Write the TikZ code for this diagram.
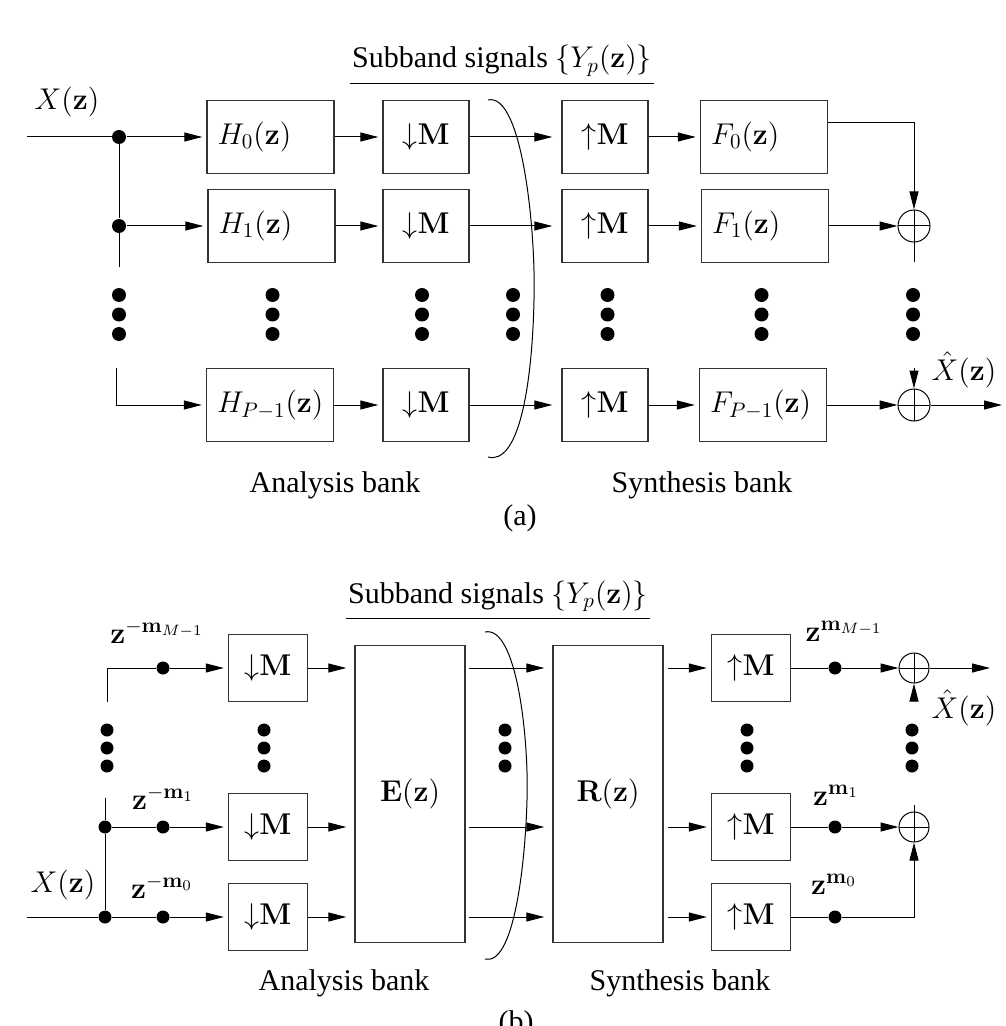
\RequirePackage{fix-cm}
\documentclass[tikz,border=0pt]{standalone}
\usepackage[no-math]{fontspec}
\setmainfont{Liberation Serif}
\usetikzlibrary{arrows.meta}
\tikzset{
  every picture/.style={font=\fontsize{15}{18}\selectfont, line width=0.5pt},
  blk/.style={draw=black!80, line width=0.7pt, minimum height=36.5pt, inner sep=0pt},
  filt/.style={blk, text width=53pt, inner xsep=5.25pt, align=left},
  rate/.style={blk, minimum width=43pt},
  rateb/.style={blk, minimum width=39.5pt, minimum height=33.5pt},
  poly/.style={blk, minimum width=55pt, minimum height=148.5pt},
  sum/.style={circle, draw, minimum size=16pt, inner sep=0pt,
    path picture={\draw (path picture bounding box.north) -- (path picture bounding box.south)
                        (path picture bounding box.west) -- (path picture bounding box.east);}},
  dot/.style={circle, fill, inner sep=0pt, minimum size=#1},
  dot/.default=7pt,
  arr/.style={-{Triangle[length=9pt, width=4.5pt]}},
  feed/.style={arr, shorten >=2pt},
  head/.style={anchor=base, inner xsep=1pt, inner ysep=3pt},
  lbl/.style={anchor=base, inner sep=0pt},
}
\newcommand{\dn}{$\mathord{\downarrow}\mathbf{M}$}
\newcommand{\up}{$\mathord{\uparrow}\mathbf{M}$}

\begin{document}
\begin{tikzpicture}[x=0.5pt, y=-0.5pt]
  \useasboundingbox (0,0) rectangle (1005,1026);

  % ---- (a): filter bank
  \node[head] (suba) at (502,68) {Subband signals $\{Y_p(\mathbf{z})\}$};
  \draw (suba.south west) -- (suba.south east);
  \node[lbl] (xa)  at (67,110)  {$X(\mathbf{z})$};
  \node[lbl] (xha) at (964,380) {$\hat{X}(\mathbf{z})$};

  \node[filt] (h0) at (270.5,137) {$H_0(\mathbf{z})$};
  \node[filt] (h1) at (271.5,226) {$H_1(\mathbf{z})$};
  \node[filt] (h2) at (270,405)   {$H_{P-1}(\mathbf{z})$};
  \foreach \i/\y in {0/137, 1/226, 2/405} {
    \node[rate] (d\i) at (426,\y) {\dn};
    \node[rate] (u\i) at (605,\y) {\up};
  }
  \node[filt] (f0) at (764,137) {$F_0(\mathbf{z})$};
  \node[filt] (f1) at (765,226) {$F_1(\mathbf{z})$};
  \node[filt] (f2) at (763,405) {$F_{P-1}(\mathbf{z})$};
  \node[sum] (s0) at (914,226) {};
  \node[sum] (s1) at (914,405) {};

  \node[dot] (j0) at (119,137) {};
  \node[dot] (j1) at (119,226) {};
  \coordinate (xin)  at (27,137);
  \coordinate (ja)   at (119,267);
  \coordinate (jb)   at (116,368);
  \coordinate (sb0)  at (914,262);
  \coordinate (st1)  at (914,368);
  \coordinate (xout) at (1002,405);

  \draw (xin) -- (j0) -- (j1) -- (ja);
  \draw[feed] (j0) -- (h0);
  \draw[feed] (j1) -- (h1);
  \draw[feed] (jb) |- (h2);
  \foreach \i in {0,1,2} \draw[feed] (h\i) -- (d\i);
  \foreach \i in {0,1,2} \draw[arr, shorten >=4.5pt] (d\i) -- (u\i);
  \foreach \i in {0,1,2} \draw[feed] (u\i) -- (f\i);
  \draw[arr] ([yshift=7pt]f0.east) -| (s0);
  \draw[arr] (f1) -- (s0);
  \draw (s0) -- (sb0);
  \draw[arr] (st1) -- (s1);
  \draw[arr] (f2) -- (s1);
  \draw[arr] (s1) -- (xout);

  % ellipses
  \foreach \x [count=\c] in {119,272.5,422,513,607.5,761.5,913}
    \foreach \k in {0,1,2} \node[dot] (va\c\k) at (\x,295+19.5*\k) {};

  \draw (488,100) .. controls (522,92) and (536,230) .. (534,300)
                  .. controls (532,390) and (518,465) .. (488,457);

  \node[lbl] (ana)  at (335,492) {Analysis bank};
  \node[lbl] (syna) at (702,492) {Synthesis bank};
  \node[lbl] (capa) at (520,525) {(a)};

  % ---- (b): polyphase form
  \node[head] (subb) at (498,603) {Subband signals $\{Y_p(\mathbf{z})\}$};
  \draw (subb.south west) -- (subb.south east);
  \node[lbl] (xb)  at (63,892)  {$X(\mathbf{z})$};
  \node[lbl] (xhb) at (964,718) {$\hat{X}(\mathbf{z})$};

  \foreach \i/\y in {0/917, 1/827, 2/668} {
    \node[rateb] (dn\i) at (268,\y) {\dn};
    \node[rateb] (up\i) at (751,\y) {\up};
    \node[dot=6.5pt] (dl\i) at (163,\y) {};
    \node[dot=6.5pt] (dr\i) at (835,\y) {};
  }
  \node[poly] (e) at (410,794) {\raisebox{-4pt}{$\mathbf{E}(\mathbf{z})$}};
  \node[poly] (r) at (608,794) {\raisebox{-4pt}{$\mathbf{R}(\mathbf{z})$}};
  \node[sum, minimum size=15pt] (sb1) at (914,827) {};
  \node[sum, minimum size=15pt] (sb2) at (914,668) {};

  \node[dot=6.5pt] (jb0) at (105,917) {};
  \node[dot=6.5pt] (jb1) at (105,827) {};
  \coordinate (xinb)  at (27,917);
  \coordinate (jtop)  at (105,798);
  \coordinate (tb)    at (107,702);
  \coordinate (sbt)   at (914,805);
  \coordinate (sbb)   at (914,700);
  \coordinate (xoutb) at (990,668);

  \draw (xinb) -- (jb0) -- (jb1) -- (jtop);
  \draw (jb0) -- (dl0);
  \draw (jb1) -- (dl1);
  \draw (tb) |- (dl2);
  \foreach \i in {0,1,2} \draw[feed] (dl\i) -- (dn\i);
  \foreach \i in {0,1,2} \draw[arr, shorten >=4pt] (dn\i) -- (e.west |- dn\i);
  \foreach \i in {0,1,2} \draw[arr, shorten <=1.5pt, shorten >=4pt] (e.east |- dn\i) -- (r.west |- dn\i);
  \foreach \i in {0,1,2} \draw[feed, shorten <=2pt] (r.east |- up\i) -- (up\i);
  \foreach \i in {0,1,2} \draw (up\i) -- (dr\i);
  \draw[arr] (dr0) -| (sb1);
  \draw[arr] (dr1) -- (sb1);
  \draw[arr] (dr2) -- (sb2);
  \draw (sb1) -- (sbt);
  \draw[arr] (sbb) -- (sb2);
  \draw[arr] (sb2) -- (xoutb);

  \node[lbl] (zl2) at (157,643) {$\mathbf{z}^{-\mathbf{m}_{M-1}}$};
  \node[lbl] (zl1) at (163,809) {$\mathbf{z}^{-\mathbf{m}_1}$};
  \node[lbl] (zl0) at (162,898) {$\mathbf{z}^{-\mathbf{m}_0}$};
  \node[lbl] (zr2) at (844,641) {$\mathbf{z}^{\mathbf{m}_{M-1}}$};
  \node[lbl] (zr1) at (836,805) {$\mathbf{z}^{\mathbf{m}_1}$};
  \node[lbl] (zr0) at (834,894) {$\mathbf{z}^{\mathbf{m}_0}$};

  % ellipses
  \foreach \x [count=\c] in {107,264,505,747,912}
    \foreach \k in {0,1,2} \node[dot=6.5pt] (vb\c\k) at (\x,730+18*\k) {};

  \draw (485,632) .. controls (517,625) and (529,740) .. (527,800)
                  .. controls (525,870) and (513,966) .. (485,959);

  \node[lbl] (anb)  at (344,990)  {Analysis bank};
  \node[lbl] (synb) at (680,990)  {Synthesis bank};
  \node[lbl] (capb) at (516,1031) {(b)};
\end{tikzpicture}
\end{document}
